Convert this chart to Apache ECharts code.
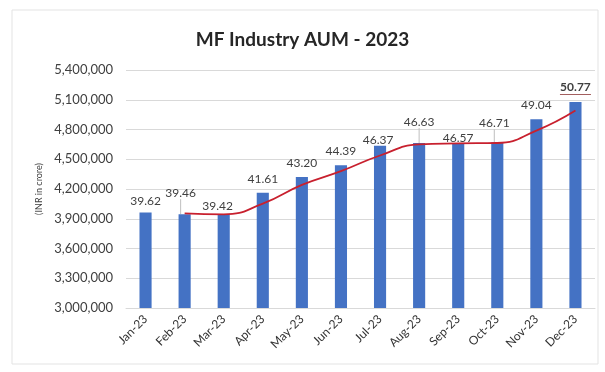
<!DOCTYPE html>
<html>
<head>
<meta charset="utf-8">
<script src="https://cdn.jsdelivr.net/npm/echarts@6/dist/echarts.min.js"></script>
<style>
  html, body { margin: 0; padding: 0; background: #ffffff; }
  #chart { width: 605px; height: 372px; }
</style>
</head>
<body>
<div id="chart"></div>
<script>
// Monthly mutual fund industry AUM, 2023
const months = ['Jan-23', 'Feb-23', 'Mar-23', 'Apr-23', 'May-23', 'Jun-23',
                'Jul-23', 'Aug-23', 'Sep-23', 'Oct-23', 'Nov-23', 'Dec-23'];
// AUM in lakh crore (as labelled above each bar)
const aumLakhCrore = [39.62, 39.46, 39.42, 41.61, 43.20, 44.39,
                      46.37, 46.63, 46.57, 46.71, 49.04, 50.77];
// Two-period moving-average trend line, lakh crore
const trendLakhCrore = [null, 39.54, 39.44, 40.52, 42.41, 43.80,
                        45.38, 46.50, 46.60, 46.64, 47.88, 49.91];
const yTicks = { min: 3000000, max: 5400000, step: 300000 };

// 1 lakh crore = 100,000 crore
const LAKH = 100000;

// Label nudges [dx, dy] so the value labels sit clear of the trend line
const labelShift = [[0, 0], [-4, -10], [-6, 3], [0, -3], [0, -3], [0, -3],
                    [-2, 5], [0, -10], [0, 5], [-3, -8], [0, -3], [0, -2]];
const withLeader = [false, true, false, false, false, false,
                    false, true, false, true, false, false];

const FONT = 'Lato, "Open Sans", sans-serif';
const lastIdx = aumLakhCrore.length - 1;

const barData = aumLakhCrore.map((v, i) => ({
  value: v * LAKH,
  labelLine: { show: withLeader[i], lineStyle: { color: '#bfbfbf', width: 1 } }
}));

const chart = echarts.init(document.getElementById('chart'), null, { renderer: 'canvas' });

chart.setOption({
  animation: false,
  backgroundColor: '#ffffff',
  title: {
    text: 'MF Industry AUM - 2023',
    left: 'center',
    top: 25,
    textStyle: { fontFamily: FONT, fontSize: 19, fontWeight: 'bold', color: '#262626' }
  },
  graphic: [{
    type: 'rect',
    shape: { x: 12, y: 10, width: 586, height: 354 },
    style: { fill: 'none', stroke: '#e3e3e3', lineWidth: 1 },
    silent: true,
    z: -1
  }],
  grid: { left: 126, right: 10, top: 70, bottom: 64 },
  xAxis: {
    type: 'category',
    data: months,
    axisLine: { lineStyle: { color: '#d9d9d9' } },
    axisTick: { show: false },
    axisLabel: {
      rotate: 45, margin: 9, interval: 0,
      fontFamily: FONT, fontSize: 12, color: '#333333'
    }
  },
  yAxis: {
    type: 'value',
    min: yTicks.min, max: yTicks.max, interval: yTicks.step,
    name: '(INR in crore)',
    nameLocation: 'middle',
    nameGap: 78,
    nameRotate: 90,
    nameTextStyle: { fontFamily: FONT, fontSize: 9, color: '#404040' },
    axisLine: { show: false },
    axisTick: { show: false },
    splitLine: { lineStyle: { color: '#d9d9d9' } },
    axisLabel: {
      margin: 13,
      fontFamily: FONT, fontSize: 13, color: '#404040',
      formatter: v => v.toLocaleString('en-US')
    }
  },
  series: [
    {
      type: 'bar',
      data: barData,
      barWidth: '31%',
      itemStyle: { color: '#4472C4' },
      label: {
        show: true,
        position: 'top',
        distance: 5,
        fontFamily: FONT, fontSize: 12, color: '#404040',
        formatter: p => p.dataIndex === lastIdx
          ? '{t|' + aumLakhCrore[p.dataIndex].toFixed(2) + '}\n{u|}'
          : aumLakhCrore[p.dataIndex].toFixed(2),
        rich: {
          t: { fontFamily: FONT, fontSize: 12, fontWeight: 'bold', color: '#404040', lineHeight: 13 },
          u: { width: 31, height: 1, lineHeight: 1, backgroundColor: '#a05a5a' }
        }
      },
      labelLayout: p => ({ dx: labelShift[p.dataIndex][0], dy: labelShift[p.dataIndex][1] }),
      z: 2
    },
    {
      type: 'line',
      data: trendLakhCrore.map(v => v === null ? null : v * LAKH),
      smooth: true,
      symbol: 'none',
      lineStyle: { color: '#c8202e', width: 1.8 },
      z: 3
    }
  ]
});
</script>
</body>
</html>
